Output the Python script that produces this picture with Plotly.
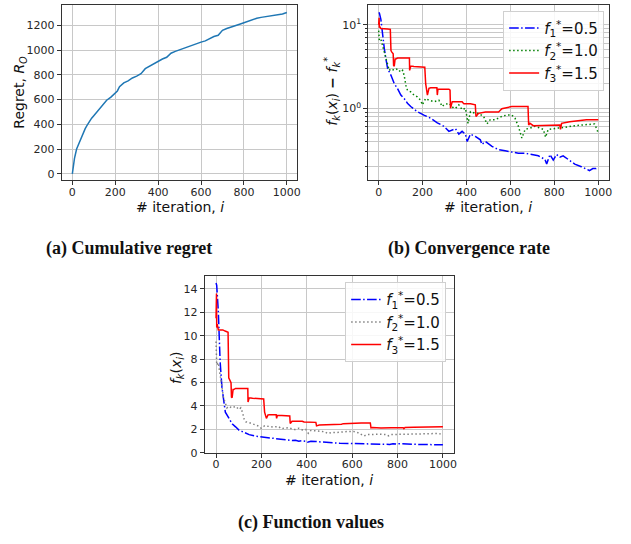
import plotly.graph_objects as go

# ---------------- data ----------------
# (a) cumulative regret
iter_a = [0, 5, 10, 20, 30, 40, 50, 60, 70, 80, 90, 100, 120, 140, 160, 180, 200, 210, 220, 230,
          240, 260, 280, 300, 320, 340, 360, 380, 400, 420, 440, 460, 480, 500, 520, 540, 560,
          580, 600, 620, 640, 660, 680, 700, 720, 740, 760, 780, 800, 820, 840, 860, 880, 900,
          920, 940, 960, 980, 1000]
regret = [0, 75, 125, 200, 245, 285, 330, 365, 395, 425, 450, 470, 510, 550, 595, 620, 650, 670,
          705, 722, 735, 752, 775, 790, 810, 850, 870, 895, 910, 928, 942, 975, 990, 1003, 1015,
          1030, 1045, 1052, 1065, 1075, 1095, 1110, 1120, 1160, 1175, 1185, 1200, 1210, 1222,
          1235, 1248, 1258, 1265, 1270, 1275, 1280, 1285, 1292, 1305]

# optimal values f_k^*
fstar = [0.5, 1.0, 1.5]

# gaps f_k(x_i) - f_k^*
iter_1 = [0, 3, 10, 18, 26, 33, 41, 56, 71, 86, 101, 116, 131, 146, 176, 206, 237, 267, 297, 320,
          335, 350, 357, 365, 380, 395, 403, 418, 440, 463, 470, 486, 516, 546, 576, 606, 636,
          666, 697, 727, 757, 765, 780, 795, 810, 825, 840, 863, 893, 923, 946, 960, 975, 990, 1000]
gap_1 = [14.0, 13.8, 11.6, 7.3, 5.1, 3.9, 2.97, 2.48, 1.97, 1.72, 1.44, 1.31, 1.15, 1.05, 0.91,
         0.83, 0.76, 0.67, 0.61, 0.53, 0.55, 0.57, 0.53, 0.49, 0.53, 0.49, 0.40, 0.49, 0.46, 0.42,
         0.37, 0.40, 0.35, 0.32, 0.31, 0.30, 0.29, 0.29, 0.28, 0.27, 0.245, 0.215, 0.28, 0.24,
         0.28, 0.26, 0.27, 0.245, 0.215, 0.20, 0.185, 0.18, 0.19, 0.19, 0.195]

iter_2 = [0, 3, 10, 18, 26, 33, 41, 48, 56, 71, 86, 101, 109, 116, 124, 131, 146, 161, 176, 191,
          199, 214, 229, 252, 274, 290, 297, 320, 342, 350, 365, 380, 395, 407, 418, 440, 455,
          478, 493, 508, 531, 561, 583, 606, 621, 636, 652, 667, 689, 712, 727, 750, 760, 772,
          817, 848, 893, 938, 983, 994, 1000]
gap_2 = [8.5, 6.5, 6.7, 5.6, 4.5, 3.7, 3.25, 2.84, 2.97, 2.84, 2.97, 2.7, 2.84, 2.48, 1.88, 1.65,
         1.57, 1.44, 1.37, 1.25, 1.1, 1.31, 1.25, 1.2, 1.25, 1.05, 1.1, 1.15, 1.0, 1.0, 1.1, 0.96,
         1.0, 0.66, 0.91, 0.87, 0.87, 0.8, 0.65, 0.73, 0.73, 0.8, 0.83, 0.83, 0.76, 0.61, 0.44,
         0.56, 0.58, 0.61, 0.59, 0.56, 0.45, 0.56, 0.58, 0.59, 0.62, 0.64, 0.65, 0.56, 0.50]

iter_3 = [0, 2, 3, 5, 10, 20, 30, 40, 53, 56, 60, 66, 68, 71, 75, 78, 86, 100, 116, 131, 140, 141,
          146, 161, 176, 191, 206, 210, 214, 222, 229, 237, 259, 265, 267, 270, 290, 320, 325,
          327, 335, 360, 380, 388, 418, 440, 443, 455, 486, 516, 546, 553, 561, 606, 640, 680,
          683, 689, 704, 727, 772, 825, 828, 833, 870, 923, 946, 1000]
gap_3 = [10.0, 12.1, 9.2, 9.5, 9.0, 9.0, 9.0, 8.9, 8.8, 4.9, 4.7, 4.5, 3.25, 3.2, 3.9, 3.9, 4.0,
         4.0, 4.04, 4.04, 4.0, 2.84, 3.2, 3.16, 3.16, 3.16, 3.16, 3.1, 1.97, 1.44, 1.73, 1.76,
         1.76, 1.76, 1.44, 1.69, 1.69, 1.69, 1.65, 1.0, 1.2, 1.2, 1.2, 1.13, 1.13, 1.1, 0.8, 0.87,
         0.9, 0.9, 0.9, 0.94, 0.99, 1.05, 1.05, 1.05, 0.63, 0.66, 0.62, 0.62, 0.63, 0.63, 0.56,
         0.66, 0.69, 0.71, 0.73, 0.73]

x_ticks = [0, 200, 400, 600, 800, 1000]
regret_ticks = [0, 200, 400, 600, 800, 1000, 1200]
fval_ticks = [0, 2, 4, 6, 8, 10, 12, 14]
log_major = [1, 10]
log_major_text = ["10<sup>0</sup>", "10<sup>1</sup>"]
log_minor = [0.2, 0.3, 0.4, 0.5, 0.6, 0.7, 0.8, 0.9, 2, 3, 4, 5, 6, 7, 8, 9]

names = ["<i>f</i><sub>1</sub><sup>*</sup>=0.5",
         "<i>f</i><sub>2</sub><sup>*</sup>=1.0",
         "<i>f</i><sub>3</sub><sup>*</sup>=1.5"]

captions = ["(a) Cumulative regret", "(b) Convergence rate", "(c) Function values"]

# ---------------- figure ----------------
W, H = 631, 544
def px(x):
    return x / W
def py(y):
    return 1 - y / H

DASHDOT = "9.6px,2.4px,1.5px,2.4px"
DOT = "1.5px,2.5px"

iters = [iter_1, iter_2, iter_3]
gaps = [gap_1, gap_2, gap_3]
b_colors = ["blue", "green", "red"]
c_colors = ["blue", "gray", "red"]
dashes = [DASHDOT, DOT, "solid"]

fig = go.Figure()

fig.add_trace(go.Scatter(x=iter_a, y=regret, mode="lines", showlegend=False,
                         line=dict(color="#1f77b4", width=1.5), xaxis="x", yaxis="y"))

for k in range(3):
    fig.add_trace(go.Scatter(x=iters[k], y=gaps[k], mode="lines", name=names[k],
                             line=dict(color=b_colors[k], width=1.5, dash=dashes[k]),
                             xaxis="x2", yaxis="y2", legend="legend"))
for k in range(3):
    vals = [g + fstar[k] for g in gaps[k]]
    fig.add_trace(go.Scatter(x=iters[k], y=vals, mode="lines", name=names[k],
                             line=dict(color=c_colors[k], width=1.5, dash=dashes[k]),
                             xaxis="x3", yaxis="y3", legend="legend2"))

tickfont = dict(family="DejaVu Sans", size=11, color="#262626")
common = dict(showline=True, linecolor="#333", linewidth=1, mirror=True,
              ticks="outside", ticklen=4, tickwidth=1, tickcolor="#333",
              showgrid=True, gridcolor="#c8c8c8", gridwidth=1, zeroline=False,
              tickfont=tickfont)
xcommon = dict(common, ticklabelstandoff=-3)

fig.update_layout(
    width=W, height=H, margin=dict(l=0, r=0, t=0, b=0),
    paper_bgcolor="white", plot_bgcolor="white",
    xaxis=dict(domain=[px(62), px(299)], range=[-50, 1048], tickvals=x_ticks,
               anchor="y", **xcommon),
    yaxis=dict(domain=[py(182.7), py(4.7)], range=[-53, 1368], tickvals=regret_ticks,
               anchor="x", **common),
    xaxis2=dict(domain=[px(370.7), px(612.7)], range=[-47, 1048], tickvals=x_ticks,
                anchor="y2", **xcommon),
    yaxis2=dict(domain=[py(182.7), py(4.7)], type="log", range=[-0.862, 1.24],
                tickvals=log_major, ticktext=log_major_text, anchor="x2",
                minor=dict(tickvals=log_minor, showgrid=True, gridcolor="#c8c8c8",
                           ticks="outside", ticklen=2, tickcolor="#333"),
                **common),
    xaxis3=dict(domain=[px(206), px(456.7)], range=[-50, 1048], tickvals=x_ticks,
                anchor="y3", **xcommon),
    yaxis3=dict(domain=[py(458.7), py(280)], range=[0, 15.07], tickvals=fval_ticks,
                anchor="x3", **common),
    legend=dict(x=px(608), y=py(11), xanchor="right", yanchor="top",
                bgcolor="rgba(255,255,255,0.85)", bordercolor="#d0d0d0", borderwidth=1,
                font=dict(family="DejaVu Sans", size=15, color="#111"),
                tracegroupgap=0),
    legend2=dict(x=px(449), y=py(286), xanchor="right", yanchor="top",
                 bgcolor="rgba(255,255,255,0.85)", bordercolor="#d0d0d0", borderwidth=1,
                 font=dict(family="DejaVu Sans", size=15, color="#111"),
                 tracegroupgap=0),
)

labfont = dict(family="DejaVu Sans", size=14, color="#111")
ann = [
    dict(text="Regret, <i>R</i><sub><i>O</i></sub>", x=px(20), y=py(93), textangle=-90),
    dict(text="# iteration, <i>i</i>", x=px(181), y=py(210)),
    dict(text="<i>f</i><sub><i>k</i></sub>(<i>x</i><sub><i>i</i></sub>) <b>−</b> <i>f</i><sub><i>k</i></sub><sup>*</sup>",
         x=px(334), y=py(92), textangle=-90),
    dict(text="# iteration, <i>i</i>", x=px(491.5), y=py(210)),
    dict(text="<i>f</i><sub><i>k</i></sub>(<i>x</i><sub><i>i</i></sub>)", x=px(178), y=py(372),
         textangle=-90),
    dict(text="# iteration, <i>i</i>", x=px(331), y=py(486)),
]
for a in ann:
    fig.add_annotation(xref="paper", yref="paper", showarrow=False, font=labfont,
                       xanchor="center", yanchor="middle", **a)

capfont = dict(family="Liberation Serif", size=18, color="#111")
for text, cx, cy in [(captions[0], 130, 252), (captions[1], 472, 252), (captions[2], 313, 529)]:
    fig.add_annotation(xref="paper", yref="paper", showarrow=False, font=capfont,
                       text="<b>" + text + "</b>", x=px(cx), y=py(cy),
                       xanchor="center", yanchor="middle")

fig.write_html("out.html", config={"displayModeBar": False},
               post_script="document.body.style.margin='0';")
